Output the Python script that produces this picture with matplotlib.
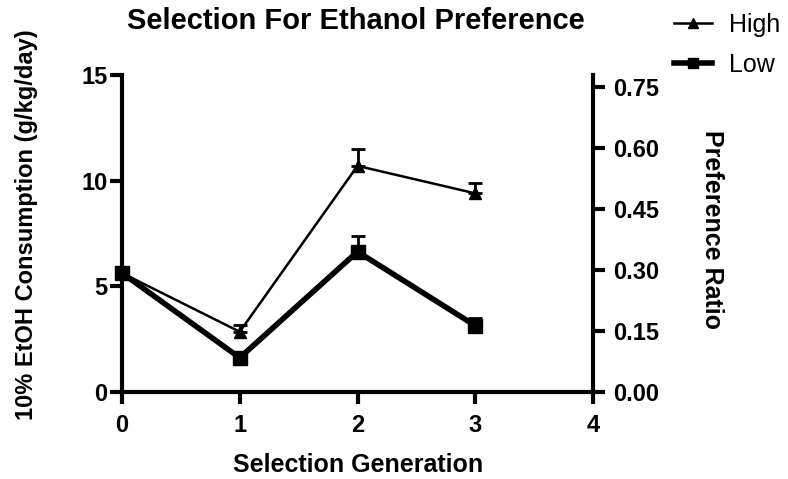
import matplotlib.pyplot as plt

plt.rcParams['font.family'] = ['Liberation Sans', 'DejaVu Sans']

# data
generation = [0, 1, 2, 3]
high_mean = [5.63, 2.85, 10.7, 9.4]
high_sem = [0.2, 0.32, 0.78, 0.47]
low_mean = [5.63, 1.62, 6.64, 3.14]
low_sem = [0.2, 0.15, 0.74, 0.35]
ratio_ticks = [0.0, 0.15, 0.30, 0.45, 0.60, 0.75]

W, H = 788, 479
fig = plt.figure(figsize=(W / 100, H / 100), dpi=100)
ax = fig.add_axes([122 / W, 1 - 392 / H, 471 / W, 317 / H])

# only upper error bars (GraphPad style)
ax.errorbar(generation, high_mean, yerr=[[0] * 4, high_sem], color='black', lw=1.8,
            marker='^', ms=9, capsize=5, capthick=2, elinewidth=2, label='High')
ax.errorbar(generation, low_mean, yerr=[[0] * 4, low_sem], color='black', lw=4,
            marker='s', ms=10, capsize=5, capthick=2, elinewidth=2, label='Low')

ax.set_xlim(0, 4)
ax.set_ylim(0, 15)
ax.set_xticks([0, 1, 2, 3, 4])
ax.set_yticks([0, 5, 10, 15])
ax.spines['top'].set_visible(False)
ax.spines['right'].set_visible(False)
for s in ['left', 'bottom']:
    ax.spines[s].set_linewidth(3)
ax.tick_params(width=3, length=8.5, labelsize=17)
ax.tick_params(axis='y', pad=2)
ax.tick_params(axis='x', pad=7)
for lab in ax.get_xticklabels() + ax.get_yticklabels():
    lab.set_fontweight('bold')
for art in ax.get_children():
    try:
        art.set_clip_on(False)
    except Exception:
        pass

# secondary axis on the right
ax2 = ax.twinx()
ax2.set_ylim(0, 0.78)
ax2.set_yticks(ratio_ticks)
ax2.set_yticklabels([f'{t:.2f}' for t in ratio_ticks])
for s in ['top', 'left', 'bottom']:
    ax2.spines[s].set_visible(False)
ax2.spines['right'].set_linewidth(3)
ax2.tick_params(width=3, length=8.5, labelsize=17, pad=6)
for lab in ax2.get_yticklabels():
    lab.set_fontweight('bold')

# labels and title
fig.text(356 / W, 1 - 21 / H, 'Selection For Ethanol Preference', fontsize=21,
         fontweight='bold', ha='center', va='center')
fig.text(358 / W, 1 - 465 / H, 'Selection Generation', fontsize=18,
         fontweight='bold', ha='center', va='center')
fig.text(27 / W, 1 - 225 / H, '10% EtOH Consumption (g/kg/day)', fontsize=17,
         fontweight='bold', ha='center', va='center', rotation=90)
fig.text(712 / W, 1 - 230 / H, 'Preference Ratio', fontsize=18,
         fontweight='bold', ha='center', va='center', rotation=-90)

h, l = ax.get_legend_handles_labels()
h = [x[0] for x in h]
fig.legend(h, l, loc='upper left', bbox_to_anchor=(674 / W, 1 - 13 / H), frameon=False,
           handlelength=1.5, handletextpad=0.7, labelspacing=0.62, borderpad=0,
           borderaxespad=0, markerscale=0.75, prop={'size': 18})

plt.savefig('out.png', dpi=100)
